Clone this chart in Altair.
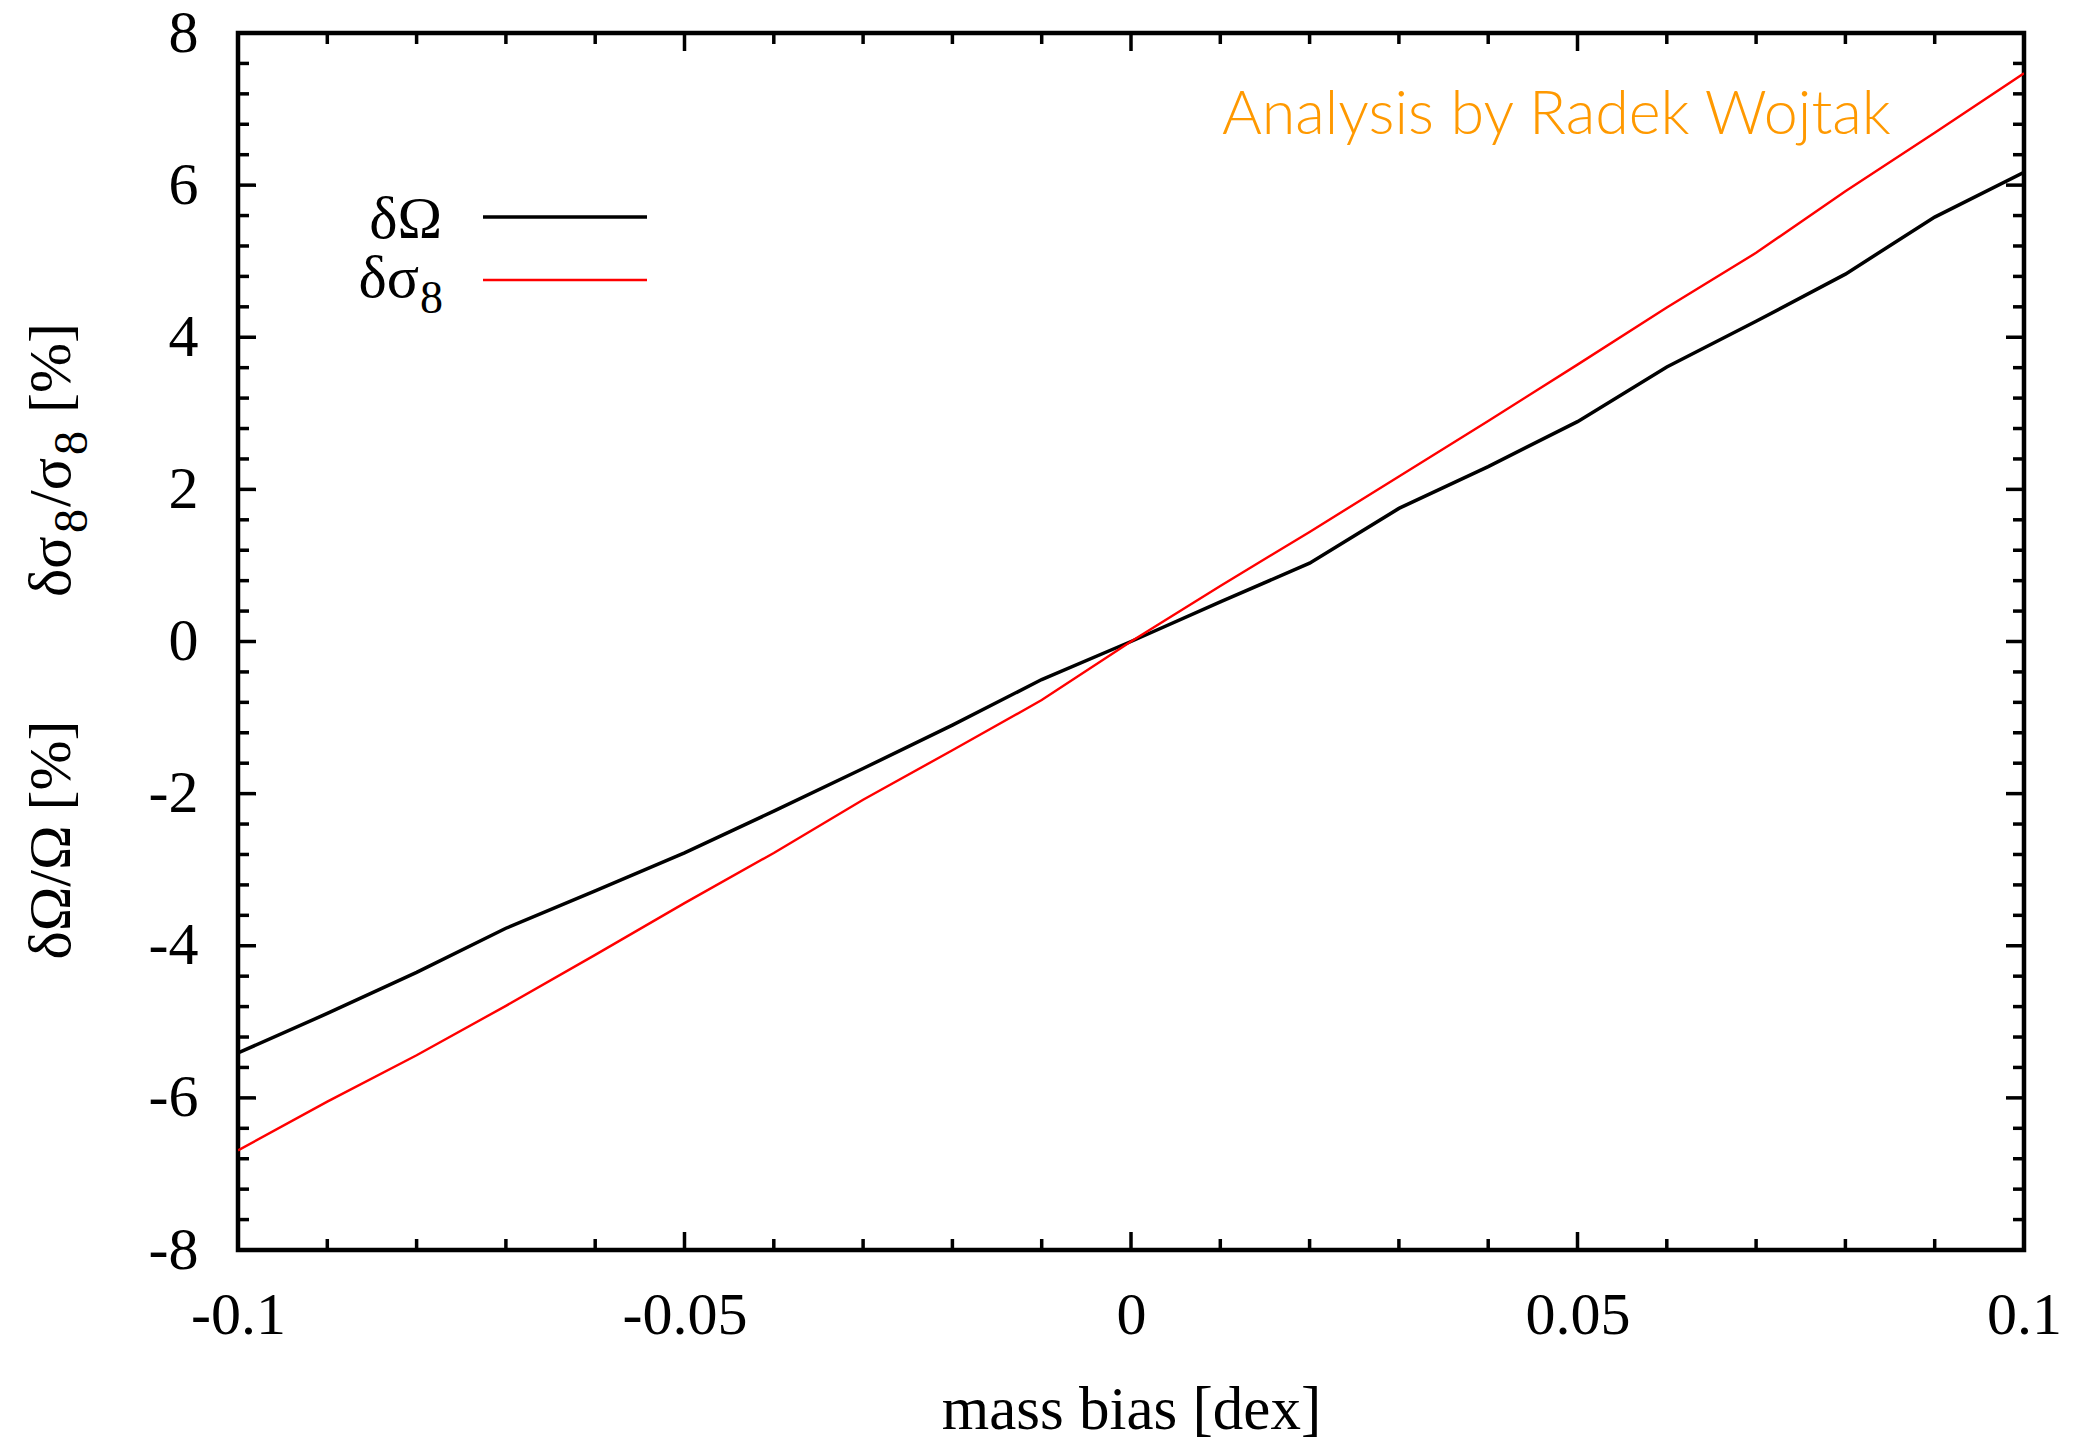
import altair as alt
import pandas as pd

# ---------------- data ----------------
mass_bias = [-0.10, -0.09, -0.08, -0.07, -0.06, -0.05, -0.04, -0.03, -0.02, -0.01,
             0.00, 0.01, 0.02, 0.03, 0.04, 0.05, 0.06, 0.07, 0.08, 0.09, 0.10]
delta_omega = [-5.41, -4.89, -4.35, -3.77, -3.28, -2.78, -2.23, -1.67, -1.10, -0.50,
               0.00, 0.52, 1.03, 1.75, 2.30, 2.89, 3.61, 4.21, 4.83, 5.58, 6.17]
delta_sigma8 = [-6.69, -6.05, -5.44, -4.79, -4.12, -3.44, -2.78, -2.08, -1.43, -0.77,
                0.00, 0.73, 1.44, 2.17, 2.90, 3.64, 4.39, 5.11, 5.92, 6.69, 7.47]

series_names = ["δΩ", "δσ8"]
series_colors = ["#000000", "#ff0000"]
series_widths = [3.5, 2.4]

x_major = [-0.1, -0.05, 0.0, 0.05, 0.1]
x_minor = [-0.09, -0.08, -0.07, -0.06, -0.04, -0.03, -0.02, -0.01,
           0.01, 0.02, 0.03, 0.04, 0.06, 0.07, 0.08, 0.09]
y_major = [-8, -6, -4, -2, 0, 2, 4, 6, 8]
y_minor = [-7.6, -7.2, -6.8, -6.4, -5.6, -5.2, -4.8, -4.4, -3.6, -3.2, -2.8, -2.4,
           -1.6, -1.2, -0.8, -0.4, 0.4, 0.8, 1.2, 1.6, 2.4, 2.8, 3.2, 3.6,
           4.4, 4.8, 5.2, 5.6, 6.4, 6.8, 7.2, 7.6]

x_title = "mass bias [dex]"
# y title 1 "δσ8/σ8 [%]" in pieces (main text, subscript) ; y title 2 plain
y_title1_parts = ["δσ", "8", "/σ", "8", "[%]"]
y_title1_sub = [False, True, False, True, False]
y_title2 = "δΩ/Ω [%]"
credit = "Analysis by Radek Wojtak"

# ---------------- layout ----------------
W, H = 1786, 1217
SERIF = "Liberation Serif"
FS = 60
SUB_FS = 48
MAJ, MIN = 18, 11
TW = 3.5

df = pd.DataFrame({
    "mass_bias": mass_bias * 2,
    "value": delta_omega + delta_sigma8,
    "series": [series_names[0]] * len(mass_bias) + [series_names[1]] * len(mass_bias),
})

xs = alt.Scale(domain=[-0.1, 0.1], nice=False, zero=False)
ys = alt.Scale(domain=[-8, 8], nice=False, zero=False)

lines = alt.Chart(df).mark_line(clip=True).encode(
    x=alt.X("mass_bias:Q", scale=xs,
            axis=alt.Axis(values=x_major, labelExpr="toString(datum.value)",
                          labelPadding=36, labelFlush=False, labelOverlap=False,
                          title=x_title, titleY=178, titleBaseline="alphabetic",
                          titleFont=SERIF, titleFontSize=61, titleFontWeight="normal",
                          titleColor="black")),
    y=alt.Y("value:Q", scale=ys,
            axis=alt.Axis(values=y_major, labelExpr="toString(datum.value)",
                          labelPadding=40, labelFlush=False, labelOverlap=False,
                          title="")),
    color=alt.Color("series:N", scale=alt.Scale(domain=series_names, range=series_colors), legend=None),
    strokeWidth=alt.StrokeWidth("series:N", scale=alt.Scale(domain=series_names, range=series_widths), legend=None),
)

def xticks(vals, length):
    d = pd.DataFrame({"v": vals})
    bottom = alt.Chart(d).mark_rule(color="black", strokeWidth=TW).encode(
        x=alt.X("v:Q", scale=xs), y=alt.value(H), y2=alt.value(H - length))
    top = alt.Chart(d).mark_rule(color="black", strokeWidth=TW).encode(
        x=alt.X("v:Q", scale=xs), y=alt.value(0), y2=alt.value(length))
    return [bottom, top]

def yticks(vals, length):
    d = pd.DataFrame({"v": vals})
    left = alt.Chart(d).mark_rule(color="black", strokeWidth=TW).encode(
        y=alt.Y("v:Q", scale=ys), x=alt.value(0), x2=alt.value(length))
    right = alt.Chart(d).mark_rule(color="black", strokeWidth=TW).encode(
        y=alt.Y("v:Q", scale=ys), x=alt.value(W), x2=alt.value(W - length))
    return [left, right]

tick_layers = xticks(x_major, MAJ) + xticks(x_minor, MIN) + yticks(y_major, MAJ) + yticks(y_minor, MIN)

def text_layer(txt, x, y, size=FS, align="center", angle=0, font=SERIF, color="black", weight="normal"):
    d = pd.DataFrame({"t": [txt]})
    kw = dict(font=font, fontSize=size, align=align, baseline="alphabetic",
              color=color, fontWeight=weight)
    if angle:
        kw["angle"] = angle
    return alt.Chart(d).mark_text(**kw).encode(
        text="t:N", x=alt.value(x), y=alt.value(y))

# rotated y titles (text reads bottom to top)
title1_starts = [564, 500, 474, 422, 380]   # where each piece begins (going upward)
ytitle_layers = []
for part, is_sub, start in zip(y_title1_parts, y_title1_sub, title1_starts):
    ytitle_layers.append(text_layer(part, -151 if is_sub else -168, start,
                                    size=SUB_FS if is_sub else FS,
                                    align="left", angle=270))
ytitle_layers.append(text_layer(y_title2, -168, 807, angle=270))

# legend
leg_lines = [
    alt.Chart(pd.DataFrame({"s": [series_names[0]]})).mark_rule(
        color=series_colors[0], strokeWidth=series_widths[0]).encode(
        x=alt.value(245), x2=alt.value(409), y=alt.value(184)),
    alt.Chart(pd.DataFrame({"s": [series_names[1]]})).mark_rule(
        color=series_colors[1], strokeWidth=series_widths[1]).encode(
        x=alt.value(245), x2=alt.value(409), y=alt.value(247)),
]
leg_texts = [
    text_layer(series_names[0], 204, 205, align="right"),
    text_layer(series_names[1][:2], 181, 264, align="right"),
    text_layer(series_names[1][2:], 182, 280, size=46, align="left"),
]

credit_layer = text_layer(credit, 984, 101, size=61, align="left", font="Lato",
                          color="#ff9900", weight=300)

chart = alt.layer(
    lines, *tick_layers, *ytitle_layers, *leg_lines, *leg_texts, credit_layer
).properties(
    width=W, height=H,
    autosize=alt.AutoSizeParams(type="none"),
    padding={"left": 238, "top": 33, "right": 53, "bottom": 191},
    background="white",
).configure_view(
    stroke="black", strokeWidth=4.5
).configure_axis(
    grid=False, domain=False, ticks=False, tickSize=0,
    labelFont=SERIF, labelFontSize=FS, labelColor="black",
)

chart.save("out.html", embed_options={"renderer": "svg", "actions": False})
